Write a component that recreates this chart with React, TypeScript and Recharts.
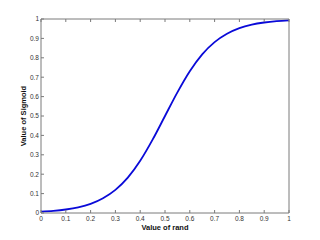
import { Line, LineChart, XAxis, YAxis } from 'recharts'

// values
const randValues = [0, 0.05, 0.1, 0.15, 0.2, 0.25, 0.3, 0.35, 0.4, 0.45, 0.5, 0.55, 0.6, 0.65, 0.7, 0.75, 0.8, 0.85, 0.9, 0.95, 1]
const sigmoidValues = [0.007, 0.011, 0.018, 0.029, 0.047, 0.076, 0.119, 0.182, 0.269, 0.378, 0.5, 0.622, 0.731, 0.818, 0.881, 0.924, 0.953, 0.971, 0.982, 0.989, 0.993]
const xTicks = [0, 0.1, 0.2, 0.3, 0.4, 0.5, 0.6, 0.7, 0.8, 0.9, 1]
const yTicks = [0, 0.1, 0.2, 0.3, 0.4, 0.5, 0.6, 0.7, 0.8, 0.9, 1]

const dados = randValues.map((r, i) => ({ rand: r, sigmoid: sigmoidValues[i] }))

const AXIS = '#7a7a7a'
const TXT = '#333'
const FONT = 'Liberation Sans, Arial, sans-serif'
const TICK_LEN = 3

const BottomTick = (p: any) => {
  const axisY = p.y - 3
  return (
    <g>
      <line x1={p.x} x2={p.x} y1={axisY} y2={axisY - TICK_LEN} stroke={AXIS} />
      <text x={p.x} y={p.y + 5} textAnchor="middle" fontSize={6.5} fill={TXT} fontFamily={FONT}>
        {p.payload.value}
      </text>
    </g>
  )
}

const LeftTick = (p: any) => {
  const axisX = p.x + 2
  return (
    <g>
      <line x1={axisX} x2={axisX + TICK_LEN} y1={p.y} y2={p.y} stroke={AXIS} />
      <text x={p.x} y={p.y + 2.3} textAnchor="end" fontSize={6.5} fill={TXT} fontFamily={FONT}>
        {p.payload.value}
      </text>
    </g>
  )
}

const TopTick = (p: any) => (
  <line x1={p.x} x2={p.x} y1={p.y} y2={p.y + TICK_LEN} stroke={AXIS} />
)

const RightTick = (p: any) => (
  <line x1={p.x} x2={p.x - TICK_LEN} y1={p.y} y2={p.y} stroke={AXIS} />
)

export default function App() {
  return (
    <div style={{ position: 'absolute', left: 0, top: 0, background: '#fff' }}>
      <LineChart width={320} height={240} data={dados} margin={{ top: 18, right: 30, left: 11, bottom: 7 }}>
        <XAxis
          xAxisId="b"
          dataKey="rand"
          type="number"
          domain={[0, 1]}
          ticks={xTicks}
          interval={0}
          stroke={AXIS}
          tickLine={false}
          tickSize={0}
          tickMargin={3}
          height={20}
          tick={<BottomTick />}
          label={{ value: 'Value of rand', position: 'insideBottom', offset: 3, fill: '#111', fontSize: 7.5, fontWeight: 'bold', fontFamily: FONT }}
        />
        <XAxis
          xAxisId="t"
          orientation="top"
          dataKey="rand"
          type="number"
          domain={[0, 1]}
          ticks={xTicks}
          interval={0}
          stroke={AXIS}
          tickLine={false}
          tickSize={0}
          tickMargin={0}
          height={1}
          tick={<TopTick />}
        />
        <YAxis
          yAxisId="l"
          type="number"
          domain={[0, 1]}
          ticks={yTicks}
          interval={0}
          stroke={AXIS}
          tickLine={false}
          tickSize={0}
          tickMargin={2}
          width={30}
          tick={<LeftTick />}
          label={{ value: 'Value of Sigmoid', angle: -90, position: 'insideLeft', offset: 12, fill: '#111', fontSize: 7.5, fontWeight: 'bold', fontFamily: FONT, style: { textAnchor: 'middle' } }}
        />
        <YAxis
          yAxisId="r"
          orientation="right"
          type="number"
          domain={[0, 1]}
          ticks={yTicks}
          interval={0}
          stroke={AXIS}
          tickLine={false}
          tickSize={0}
          tickMargin={0}
          width={1}
          tick={<RightTick />}
        />
        <Line
          xAxisId="b"
          yAxisId="l"
          dataKey="sigmoid"
          type="monotone"
          stroke="#0a0ad8"
          strokeWidth={1.8}
          dot={false}
          isAnimationActive={false}
        />
      </LineChart>
    </div>
  )
}
